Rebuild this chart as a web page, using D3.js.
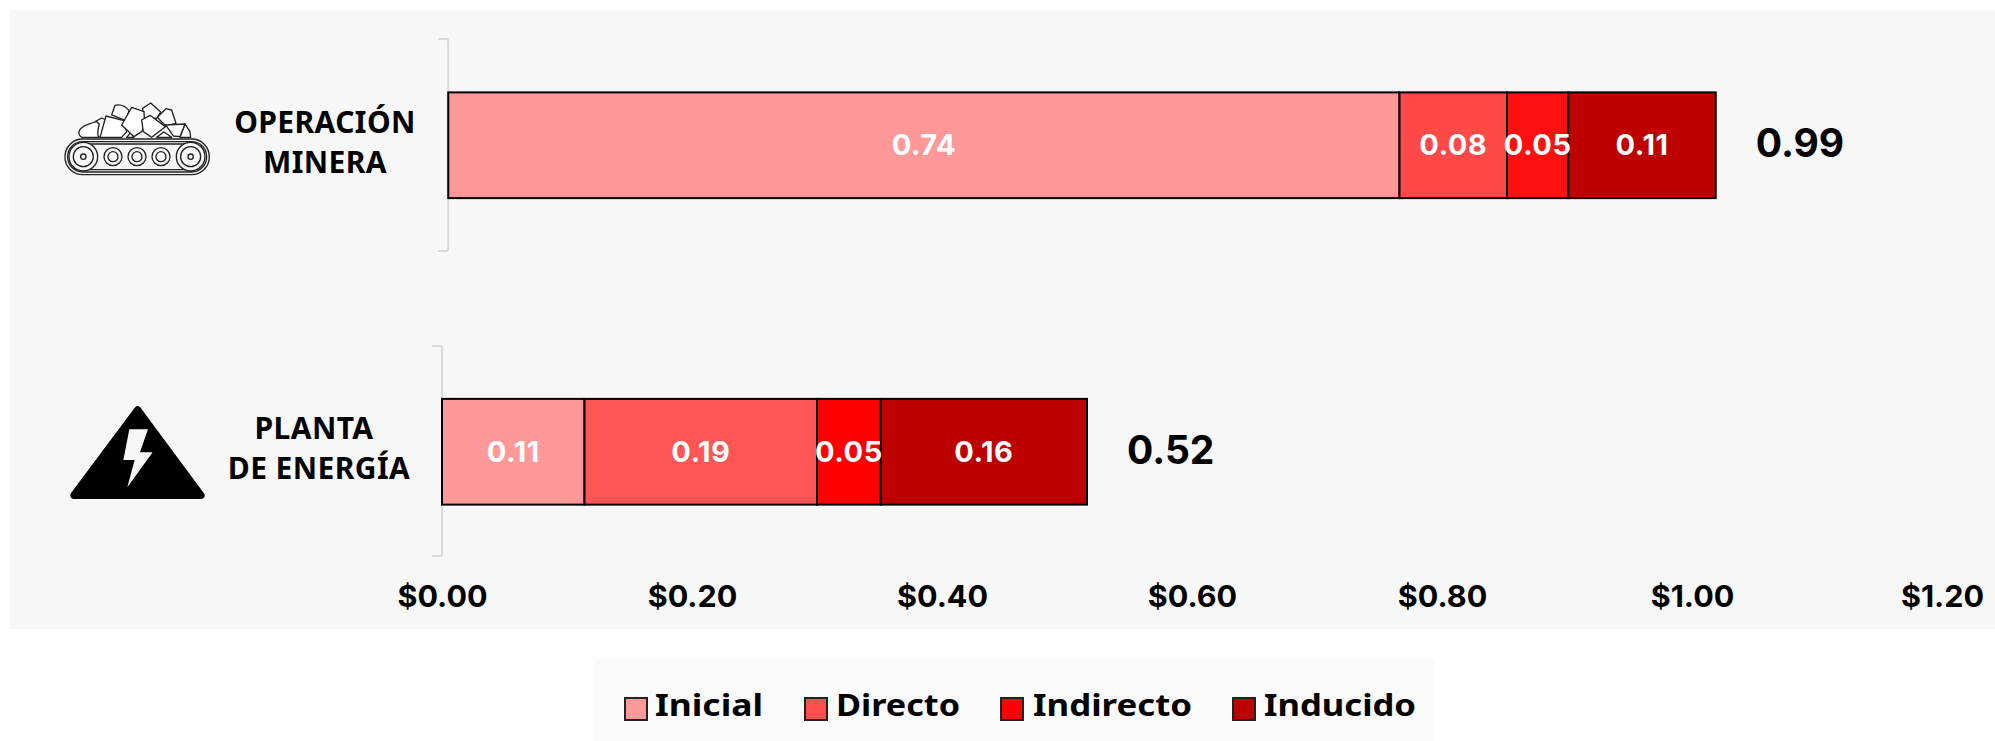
<!DOCTYPE html>
<html><head><meta charset="utf-8">
<script src="https://cdnjs.cloudflare.com/ajax/libs/d3/7.8.5/d3.min.js"></script>
<style>html,body{margin:0;padding:0;background:#fff}svg{display:block}text{font-family:"Noto Sans",sans-serif;font-weight:700}.num{font-family:Inter,sans-serif}</style>
</head><body><svg id="c" width="1995" height="741"></svg>
<script>
const categories = ["OPERACIÓN MINERA", "PLANTA DE ENERGÍA"];
const categoryLines = [["OPERACIÓN", "MINERA"], ["PLANTA", "DE ENERGÍA"]];
const seriesNames = ["Inicial", "Directo", "Indirecto", "Inducido"];
// Drawn lengths (the printed labels differ slightly on the first row)
const barStart = [0.005, 0];
const inicial = [0.761, 0.114];
const directo = [0.086, 0.186];
const indirecto = [0.049, 0.051];
const inducido = [0.118, 0.165];
const inicialLabels = ["0.74", "0.11"];
const directoLabels = ["0.08", "0.19"];
const indirectoLabels = ["0.05", "0.05"];
const inducidoLabels = ["0.11", "0.16"];
const totalLabels = ["0.99", "0.52"];
const tickValues = [0, 0.2, 0.4, 0.6, 0.8, 1.0, 1.2];
const tickLabels = ["$0.00", "$0.20", "$0.40", "$0.60", "$0.80", "$1.00", "$1.20"];

const seriesValues = [inicial, directo, indirecto, inducido];
const seriesLabels = [inicialLabels, directoLabels, indirectoLabels, inducidoLabels];
const rowColors = [["#ff9999", "#ff4848", "#ff1010", "#bd0000"], ["#ff9999", "#ff5555", "#ff0000", "#bd0000"]];
const legendColors = ["#ff9999", "#ff5050", "#ff0000", "#bd0000"];

const svg = d3.select("#c");
const x = d3.scaleLinear().domain([0, 1.2]).range([442, 1942]);
const y = d3.scaleBand().domain(categories).range([-8, 605]).paddingInner(0.655).paddingOuter(0.3275);

svg.append("rect").attr("x", 10).attr("y", 10).attr("width", 1985).attr("height", 619).attr("fill", "#f7f7f7");
svg.append("rect").attr("x", 594).attr("y", 659).attr("width", 841).attr("height", 82).attr("fill", "#fafafa");

// category brackets
const bracketTop = [39, 346], bracketBottom = [251, 556];
categories.forEach((c, i) => {
  const bx = x(barStart[i]);
  svg.append("path").attr("fill", "none").attr("stroke", "#dadada").attr("stroke-width", 2)
    .attr("d", `M${bx - 10},${bracketTop[i]}H${bx - 2}Q${bx},${bracketTop[i]} ${bx},${bracketTop[i] + 2}V${bracketBottom[i] - 2}Q${bx},${bracketBottom[i]} ${bx - 2},${bracketBottom[i]}H${bx - 10}`);
});

// stacked bars
categories.forEach((c, i) => {
  let acc = barStart[i];
  const segs = seriesValues.map((s, k) => { const d = { x0: acc, x1: acc + s[i], label: seriesLabels[k][i], color: rowColors[i][k] }; acc += s[i]; return d; });
  const g = svg.append("g");
  g.selectAll("rect").data(segs).join("rect")
    .attr("x", d => x(d.x0)).attr("width", d => x(d.x1) - x(d.x0))
    .attr("y", y(c)).attr("height", y.bandwidth())
    .attr("fill", d => d.color).attr("stroke", "#000").attr("stroke-width", 2);
  g.selectAll("text").data(segs).join("text").attr("class", "num")
    .attr("x", d => (x(d.x0) + x(d.x1)) / 2).attr("y", y(c) + y.bandwidth() / 2 + 10)
    .attr("text-anchor", "middle").attr("fill", "#fff").attr("font-size", 29).attr("letter-spacing", 0.5)
    .text(d => d.label);
  svg.append("text").attr("class", "num").attr("x", x(acc) + 40).attr("y", y(c) + y.bandwidth() / 2 + 12)
    .attr("font-size", 39).attr("fill", "#000").text(totalLabels[i]);
});

// x axis
const axis = d3.axisBottom(x).tickValues(tickValues).tickFormat((d, i) => tickLabels[i]).tickSize(0).tickPadding(0);
const ag = svg.append("g").attr("transform", "translate(0,580)").call(axis);
ag.select(".domain").remove();
ag.selectAll("text").attr("class", "num").attr("fill", "#000").attr("font-size", 30.5).attr("dy", 27).style("font-family", 'Inter,sans-serif').style("font-weight", 700);

// category labels
const labelCx = [[325, 325], [314, 319]];
const labelBase = [[133, 173], [439, 479]];
categoryLines.forEach((ls, i) => ls.forEach((t, j) => {
  svg.append("text").attr("x", labelCx[i][j]).attr("y", labelBase[i][j]).attr("text-anchor", "middle")
    .attr("font-size", 30).attr("letter-spacing", 0.4).attr("fill", "#000").text(t);
}));

// conveyor icon
const icon = svg.append("g").attr("transform", "scale(0.3333)").attr("fill", "none").attr("stroke", "#222").attr("stroke-width", 4);
const rocks = [
  "M335 345L345 316Q370 310 387 332L378 362Z",
  "M428 325L452 309L482 336L470 355L430 352Z",
  "M472 352L498 326L515 330L528 370L497 378Z",
  "M286 365L305 354L318 360L305 410L292 412Z",
  "M555 372L570 395L572 412L540 412Z",
  "M380 412L392 398L402 412Z M470 412L492 396L515 412Z",
  "M237 395Q240 378 290 365L298 372Q290 400 296 412L245 412Q235 405 237 395Z",
  "M300 412L318 348L372 362L380 395L365 412Z",
  "M497 375L555 372L540 410L520 408Z",
  "M365 375L395 322L432 335L434 375L425 395L402 410Z",
  "M425 360L450 346L496 380L455 412L430 395Z"
];
icon.selectAll(".rock").data(rocks).join("path").attr("class", "rock").attr("d", d => d).attr("fill", "#fff").attr("stroke-linejoin", "round");
[0, 8, 15].forEach(o => icon.append("rect").attr("x", 195 + o).attr("y", 417 + o).attr("width", 433 - 2 * o).attr("height", 107 - 2 * o).attr("rx", 53 - o));
[[250, 470, [43, 30, 8]], [572, 470, [43, 30, 8]], [339, 470, [27, 15]], [411, 470, [27, 15]], [483, 470, [27, 15]]].forEach(w => {
  w[2].forEach(r => icon.append("circle").attr("cx", w[0]).attr("cy", w[1]).attr("r", r).attr("fill", r === 43 ? "#f7f7f7" : "none"));
});

// power icon
const pg = svg.append("g").attr("transform", "translate(0,320) scale(0.3333)");
pg.append("path").attr("fill", "#000").attr("stroke", "#000").attr("stroke-width", 22).attr("stroke-linejoin", "round")
  .attr("d", "M413 270L603 526H222Z");
pg.append("path").attr("fill", "#f7f7f7").attr("d", "M388 328L444 328L420 397L458 397L382 502L404 420L370 420Z");

// legend
const swatchX = [625, 805, 1001, 1233];
const legendTextX = [655, 836, 1033, 1264];
const legendTextW = [108, 124, 159, 152];
const lg = svg.append("g");
lg.selectAll("rect").data(seriesNames).join("rect")
  .attr("x", (d, i) => swatchX[i]).attr("y", 698).attr("width", 22).attr("height", 22)
  .attr("fill", (d, i) => legendColors[i]).attr("stroke", "#222").attr("stroke-width", 2);
lg.selectAll("text").data(seriesNames).join("text")
  .attr("x", (d, i) => legendTextX[i]).attr("y", 716).attr("font-size", 31).attr("fill", "#000")
  .attr("textLength", (d, i) => legendTextW[i]).attr("lengthAdjust", "spacingAndGlyphs").text(d => d);
</script></body></html>
